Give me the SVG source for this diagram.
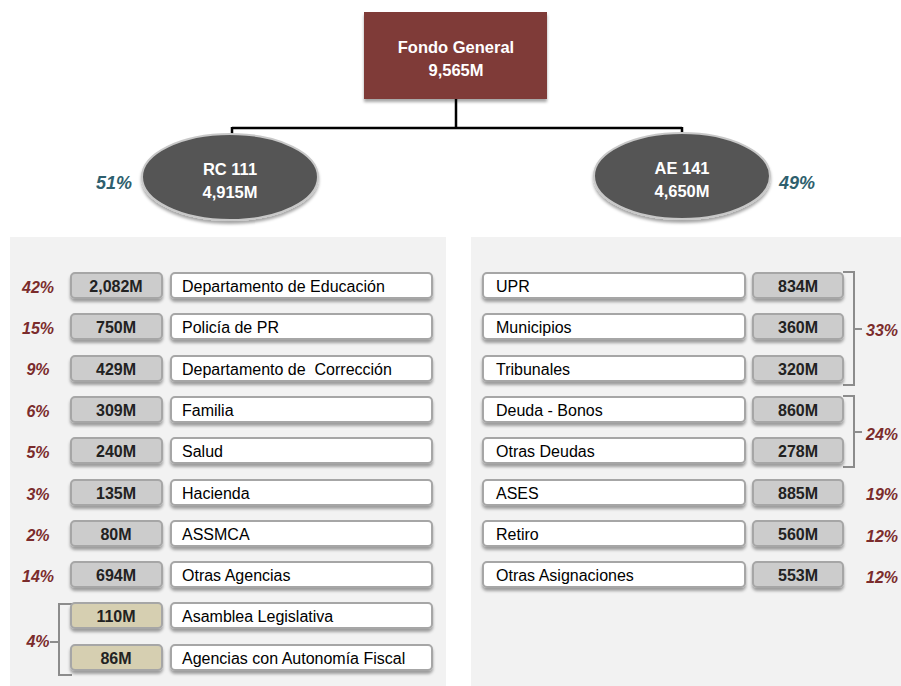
<svg xmlns="http://www.w3.org/2000/svg" width="901" height="686" viewBox="0 0 901 686">
<defs>
<filter id="sh" x="-10%" y="-30%" width="120%" height="180%">
<feDropShadow dx="0" dy="3" stdDeviation="1.5" flood-color="#000" flood-opacity="0.35"/>
</filter>
<style>
.lab{fill:#fff;stroke:#a6a6a6;stroke-width:2}
.val{fill:#cccccc;stroke:#a6a6a6;stroke-width:2}
.tan{fill:#d6cfb1;stroke:#a6a6a6;stroke-width:2}
.lt{font-family:"Liberation Sans",Arial,sans-serif;font-size:16px;fill:#000;dominant-baseline:central}
.vt{font-family:"Liberation Sans",Arial,sans-serif;font-size:16px;font-weight:bold;fill:#222;text-anchor:middle;dominant-baseline:central}
.pc{font-family:"Liberation Sans",Arial,sans-serif;font-size:16px;font-weight:bold;font-style:italic;fill:#7b2c2c;text-anchor:middle;dominant-baseline:central}
.tp{font-family:"Liberation Sans",Arial,sans-serif;font-size:18px;font-weight:bold;font-style:italic;fill:#2e5f6e;text-anchor:middle;dominant-baseline:central}
.wt{font-family:"Liberation Sans",Arial,sans-serif;font-size:16.5px;font-weight:bold;fill:#fff;text-anchor:middle}
.br{fill:none;stroke:#8c8c8c;stroke-width:2}
</style>
</defs>
<rect x="10" y="237" width="436" height="449" fill="#f2f2f2"/>
<rect x="471" y="237" width="430" height="449" fill="#f2f2f2"/>
<g id="connectors" fill="none" stroke="#000" stroke-width="2.5">
<path d="M456 99 V128 M232 128 H682 M232 127 V140 M682 127 V140"/>
</g>
<g id="fondo">
<rect x="364" y="12" width="183" height="87" fill="#7f3b38" filter="url(#sh)"/>
<text class="wt" x="456" y="53">Fondo General</text>
<text class="wt" x="456" y="76">9,565M</text>
</g>
<g id="rc111">
<ellipse cx="230" cy="177" rx="88" ry="43" fill="#555555" stroke="#c8c8c8" stroke-width="2" filter="url(#sh)"/>
<text class="wt" x="230" y="175">RC 111</text>
<text class="wt" x="230" y="198">4,915M</text>
<text class="tp" x="114" y="183">51%</text>
</g>
<g id="ae141">
<ellipse cx="682" cy="176" rx="88" ry="43" fill="#555555" stroke="#c8c8c8" stroke-width="2" filter="url(#sh)"/>
<text class="wt" x="682" y="174">AE 141</text>
<text class="wt" x="682" y="197">4,650M</text>
<text class="tp" x="797" y="183">49%</text>
</g>
<g id="left-rows">
<g id="l1"><text class="pc" x="38" y="287">42%</text><rect class="val" x="71" y="273" width="91" height="25" rx="4" filter="url(#sh)"/><text class="vt" x="116" y="286">2,082M</text><rect class="lab" x="171" y="273" width="261" height="25" rx="4" filter="url(#sh)"/><text class="lt" x="182" y="286">Departamento de Educación</text></g>
<g id="l2"><text class="pc" x="38" y="328">15%</text><rect class="val" x="71" y="314" width="91" height="25" rx="4" filter="url(#sh)"/><text class="vt" x="116" y="327">750M</text><rect class="lab" x="171" y="314" width="261" height="25" rx="4" filter="url(#sh)"/><text class="lt" x="182" y="327">Policía de PR</text></g>
<g id="l3"><text class="pc" x="38" y="369">9%</text><rect class="val" x="71" y="356" width="91" height="25" rx="4" filter="url(#sh)"/><text class="vt" x="116" y="369">429M</text><rect class="lab" x="171" y="356" width="261" height="25" rx="4" filter="url(#sh)"/><text class="lt" x="182" y="369" xml:space="preserve">Departamento de  Corrección</text></g>
<g id="l4"><text class="pc" x="38" y="411">6%</text><rect class="val" x="71" y="397" width="91" height="25" rx="4" filter="url(#sh)"/><text class="vt" x="116" y="410">309M</text><rect class="lab" x="171" y="397" width="261" height="25" rx="4" filter="url(#sh)"/><text class="lt" x="182" y="410">Familia</text></g>
<g id="l5"><text class="pc" x="38" y="452">5%</text><rect class="val" x="71" y="438" width="91" height="25" rx="4" filter="url(#sh)"/><text class="vt" x="116" y="451">240M</text><rect class="lab" x="171" y="438" width="261" height="25" rx="4" filter="url(#sh)"/><text class="lt" x="182" y="451">Salud</text></g>
<g id="l6"><text class="pc" x="38" y="494">3%</text><rect class="val" x="71" y="480" width="91" height="25" rx="4" filter="url(#sh)"/><text class="vt" x="116" y="493">135M</text><rect class="lab" x="171" y="480" width="261" height="25" rx="4" filter="url(#sh)"/><text class="lt" x="182" y="493">Hacienda</text></g>
<g id="l7"><text class="pc" x="38" y="535">2%</text><rect class="val" x="71" y="521" width="91" height="25" rx="4" filter="url(#sh)"/><text class="vt" x="116" y="534">80M</text><rect class="lab" x="171" y="521" width="261" height="25" rx="4" filter="url(#sh)"/><text class="lt" x="182" y="534">ASSMCA</text></g>
<g id="l8"><text class="pc" x="38" y="576">14%</text><rect class="val" x="71" y="562" width="91" height="25" rx="4" filter="url(#sh)"/><text class="vt" x="116" y="575">694M</text><rect class="lab" x="171" y="562" width="261" height="25" rx="4" filter="url(#sh)"/><text class="lt" x="182" y="575">Otras Agencias</text></g>
<path class="br" d="M72 604 H59 V675 H72 M50 642 H59"/>
<text class="pc" x="38" y="641">4%</text>
<g id="l9"><rect class="tan" x="71" y="603" width="91" height="25" rx="4" filter="url(#sh)"/><text class="vt" x="116" y="616">110M</text><rect class="lab" x="171" y="603" width="261" height="25" rx="4" filter="url(#sh)"/><text class="lt" x="182" y="616">Asamblea Legislativa</text></g>
<g id="l10"><rect class="tan" x="71" y="645" width="91" height="25" rx="4" filter="url(#sh)"/><text class="vt" x="116" y="658">86M</text><rect class="lab" x="171" y="645" width="261" height="25" rx="4" filter="url(#sh)"/><text class="lt" x="182" y="658">Agencias con Autonomía Fiscal</text></g>
</g>
<g id="right-rows">
<path class="br" d="M843 272 H854 V385 H843 M854 329 H862"/>
<path class="br" d="M843 396 H854 V467 H843 M854 432 H862"/>
<text class="pc" x="882" y="330">33%</text>
<text class="pc" x="882" y="434">24%</text>
<g id="r1"><rect class="lab" x="483" y="273" width="262" height="25" rx="4" filter="url(#sh)"/><text class="lt" x="496" y="286">UPR</text><rect class="val" x="753" y="273" width="90" height="25" rx="4" filter="url(#sh)"/><text class="vt" x="798" y="286">834M</text></g>
<g id="r2"><rect class="lab" x="483" y="314" width="262" height="25" rx="4" filter="url(#sh)"/><text class="lt" x="496" y="327">Municipios</text><rect class="val" x="753" y="314" width="90" height="25" rx="4" filter="url(#sh)"/><text class="vt" x="798" y="327">360M</text></g>
<g id="r3"><rect class="lab" x="483" y="356" width="262" height="25" rx="4" filter="url(#sh)"/><text class="lt" x="496" y="369">Tribunales</text><rect class="val" x="753" y="356" width="90" height="25" rx="4" filter="url(#sh)"/><text class="vt" x="798" y="369">320M</text></g>
<g id="r4"><rect class="lab" x="483" y="397" width="262" height="25" rx="4" filter="url(#sh)"/><text class="lt" x="496" y="410">Deuda - Bonos</text><rect class="val" x="753" y="397" width="90" height="25" rx="4" filter="url(#sh)"/><text class="vt" x="798" y="410">860M</text></g>
<g id="r5"><rect class="lab" x="483" y="438" width="262" height="25" rx="4" filter="url(#sh)"/><text class="lt" x="496" y="451">Otras Deudas</text><rect class="val" x="753" y="438" width="90" height="25" rx="4" filter="url(#sh)"/><text class="vt" x="798" y="451">278M</text></g>
<g id="r6"><rect class="lab" x="483" y="480" width="262" height="25" rx="4" filter="url(#sh)"/><text class="lt" x="496" y="493">ASES</text><rect class="val" x="753" y="480" width="90" height="25" rx="4" filter="url(#sh)"/><text class="vt" x="798" y="493">885M</text><text class="pc" x="882" y="494">19%</text></g>
<g id="r7"><rect class="lab" x="483" y="521" width="262" height="25" rx="4" filter="url(#sh)"/><text class="lt" x="496" y="534">Retiro</text><rect class="val" x="753" y="521" width="90" height="25" rx="4" filter="url(#sh)"/><text class="vt" x="798" y="534">560M</text><text class="pc" x="882" y="536">12%</text></g>
<g id="r8"><rect class="lab" x="483" y="562" width="262" height="25" rx="4" filter="url(#sh)"/><text class="lt" x="496" y="575">Otras Asignaciones</text><rect class="val" x="753" y="562" width="90" height="25" rx="4" filter="url(#sh)"/><text class="vt" x="798" y="575">553M</text><text class="pc" x="882" y="577">12%</text></g>
</g>
</svg>
